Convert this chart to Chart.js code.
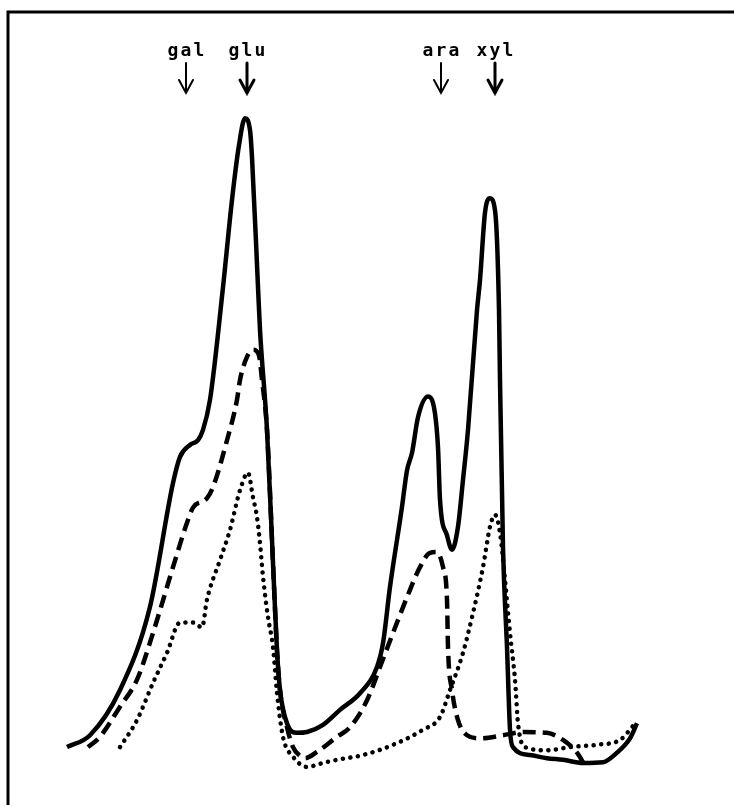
<!DOCTYPE html>
<html>
<head>
<meta charset="utf-8">
<script src="https://cdn.jsdelivr.net/npm/chart.js@4"></script>
<style>
  html, body { margin: 0; padding: 0; background: #fff; }
</style>
</head>
<body>
<canvas id="c" width="734" height="805"></canvas>
<script>
// sugar markers along the elution axis (fraction units)
const sugars = ['gal', 'glu', 'ara', 'xyl'];
const sugarPos = [35.4, 47.6, 86.4, 97.2];
const sugarBold = [false, true, false, true];

// solid trace
const solidX = [11.6, 16.2, 22.2, 28.2, 32.8, 34.2, 36.2, 37.8, 38.8, 40.2, 42.8, 44.6, 46.0, 47.2, 48.2, 48.6, 49.8, 50.2, 51.6, 52.8, 53.6, 54.2, 55.6, 57.6, 59.6, 62.8, 66.2, 70.2, 73.6, 74.8, 76.2, 78.6, 79.6, 80.6, 81.8, 83.8, 84.8, 85.8, 86.2, 87.6, 88.6, 89.8, 90.8, 91.8, 93.6, 94.2, 95.2, 96.2, 97.2, 98.0, 98.2, 98.8, 99.6, 100.2, 100.8, 104.2, 107.6, 110.8, 114.8, 118.8, 121.6, 124.2, 125.6];
const solidY = [7.3, 8.8, 14.5, 25.0, 40.6, 43.9, 45.4, 46.0, 47.3, 51.1, 65.3, 76.3, 83.2, 86.6, 85.1, 81.7, 65.3, 59.9, 47.3, 30.5, 19.5, 14.5, 10.3, 9.1, 9.2, 10.1, 12.0, 14.1, 17.4, 20.4, 27.5, 37.6, 42.2, 44.4, 48.9, 51.5, 50.7, 45.1, 38.5, 34.0, 32.2, 35.1, 41.0, 47.3, 62.4, 66.2, 74.7, 76.5, 75.0, 62.4, 53.6, 32.5, 19.9, 9.5, 7.3, 6.3, 5.9, 5.7, 5.3, 5.4, 6.6, 8.4, 10.3];

// dashed trace
const dashX = [15.8, 18.2, 22.2, 25.6, 28.8, 32.8, 35.6, 36.8, 39.6, 40.8, 43.6, 45.6, 46.2, 47.6, 48.8, 50.0, 50.6, 51.6, 52.8, 53.6, 54.2, 55.6, 56.8, 58.2, 59.2, 61.6, 65.6, 68.2, 71.6, 74.2, 76.8, 79.6, 82.2, 84.2, 85.6, 86.8, 87.6, 87.8, 88.6, 89.8, 91.6, 94.2, 98.8, 102.8, 107.6, 110.8, 113.6, 114.8];
const dashY = [7.3, 8.6, 12.4, 15.8, 21.7, 30.0, 35.6, 37.5, 38.7, 40.1, 46.0, 51.1, 53.6, 56.5, 57.4, 56.7, 53.6, 47.3, 30.5, 19.5, 14.5, 9.8, 7.3, 6.2, 5.9, 6.7, 8.6, 9.8, 13.2, 17.4, 21.7, 26.2, 30.0, 31.8, 31.9, 30.0, 25.9, 19.9, 14.5, 10.7, 8.8, 8.4, 8.8, 9.2, 9.1, 8.2, 6.6, 5.4];

// dotted trace
const dotX = [22.2, 25.6, 28.8, 31.6, 34.2, 36.8, 38.6, 39.6, 42.2, 44.2, 46.2, 47.8, 48.8, 49.6, 50.2, 50.8, 51.8, 52.8, 53.6, 54.8, 56.8, 59.6, 62.8, 65.6, 70.8, 77.6, 82.8, 86.2, 88.2, 90.8, 92.8, 94.8, 96.2, 97.2, 98.2, 99.2, 100.2, 101.2, 101.8, 103.2, 107.6, 112.2, 117.6, 122.2, 124.2, 125.2];
const dotY = [7.3, 10.7, 15.4, 19.2, 23.0, 23.0, 22.4, 25.9, 30.9, 34.7, 39.7, 41.9, 38.8, 36.3, 33.0, 28.8, 23.7, 19.9, 14.1, 8.6, 6.1, 4.8, 5.3, 5.7, 6.3, 7.8, 9.5, 11.1, 14.5, 19.2, 24.2, 30.0, 35.1, 36.6, 34.3, 28.4, 21.7, 15.8, 10.3, 7.3, 6.9, 7.3, 7.6, 8.2, 9.5, 10.3];

const pts = (xs, ys) => xs.map((x, i) => ({ x: x, y: ys[i] }));

// frame (top + left) and sugar labels with arrows
const decor = {
  id: 'decor',
  afterDraw(chart) {
    const ctx = chart.ctx;
    const a = chart.chartArea;
    const xs = chart.scales.x;
    ctx.save();
    ctx.strokeStyle = '#000';
    ctx.lineWidth = 3;
    ctx.beginPath();
    ctx.moveTo(a.left - 1, chart.height);
    ctx.lineTo(a.left - 1, a.top);
    ctx.lineTo(a.right, a.top);
    ctx.stroke();

    ctx.fillStyle = '#000';
    ctx.font = 'bold 18px "DejaVu Sans Mono"';
    ctx.textAlign = 'center';
    ctx.textBaseline = 'alphabetic';
    sugars.forEach((s, i) => {
      const px = xs.getPixelForValue(sugarPos[i]);
      const step = 13;
      for (let k = 0; k < s.length; k++) {
        ctx.fillText(s[k], px + (k - (s.length - 1) / 2) * step, 56);
      }
      ctx.lineWidth = sugarBold[i] ? 3 : 2;
      ctx.lineCap = 'round';
      ctx.beginPath();
      ctx.moveTo(px, 63);
      ctx.lineTo(px, 93);
      ctx.moveTo(px - 7, 80);
      ctx.lineTo(px, 93);
      ctx.lineTo(px + 7, 80);
      ctx.stroke();
    });
    ctx.restore();
  }
};

new Chart(document.getElementById('c'), {
  type: 'line',
  data: {
    datasets: [
      {
        label: 'solid',
        data: pts(solidX, solidY),
        borderColor: '#000',
        borderWidth: 4.5,
        cubicInterpolationMode: 'monotone',
        pointRadius: 0
      },
      {
        label: 'dashed',
        data: pts(dashX, dashY),
        borderColor: '#000',
        borderWidth: 4.5,
        borderDash: [13, 7],
        cubicInterpolationMode: 'monotone',
        pointRadius: 0
      },
      {
        label: 'dotted',
        data: pts(dotX, dotY),
        borderColor: '#000',
        borderWidth: 4.5,
        borderDash: [0.1, 7.5],
        borderCapStyle: 'round',
        cubicInterpolationMode: 'monotone',
        pointRadius: 0
      }
    ]
  },
  options: {
    responsive: false,
    animation: false,
    layout: { padding: { left: 9, top: 12, right: 0, bottom: 0 } },
    plugins: { legend: { display: false }, tooltip: { enabled: false } },
    scales: {
      x: { type: 'linear', min: 0, max: 145, display: false },
      y: { min: 0, max: 100, display: false }
    }
  },
  plugins: [decor]
});
</script>
</body>
</html>
